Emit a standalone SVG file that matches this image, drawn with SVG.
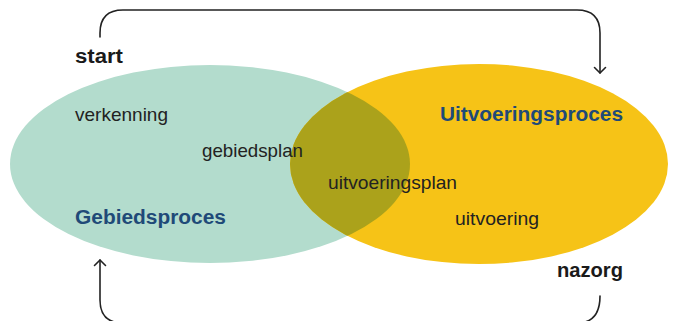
<svg xmlns="http://www.w3.org/2000/svg" width="678" height="321" viewBox="0 0 678 321">
  <style>
    .lbl { font-family: "Liberation Sans", Arial, sans-serif; font-size: 19px; fill: #222222; }
    .bold { font-family: "Liberation Sans", Arial, sans-serif; font-size: 20px; font-weight: bold; fill: #1a1a1a; }
    .title { font-family: "Liberation Sans", Arial, sans-serif; font-size: 20px; font-weight: bold; fill: #1f4a78; }
    .conn { fill: none; stroke: #222222; stroke-width: 1.6; stroke-linecap: round; stroke-linejoin: round; }
  </style>
  <defs>
    <clipPath id="tealClip">
      <ellipse cx="210" cy="164" rx="200" ry="99"/>
    </clipPath>
  </defs>
  <rect width="678" height="321" fill="#ffffff"/>

  <g id="gebiedsproces">
    <ellipse cx="210" cy="164" rx="200" ry="99" fill="#b3dccd"/>
  </g>
  <g id="uitvoeringsproces">
    <ellipse cx="479" cy="164" rx="189" ry="100" fill="#f6c317"/>
  </g>
  <g id="overlap">
    <ellipse cx="479" cy="164" rx="189" ry="100" fill="#aba21b" clip-path="url(#tealClip)"/>
  </g>

  <g id="connectors">
    <path class="conn" d="M100,37 L100,33 Q100,10 123,10 L577,10 Q600,10 600,33 L600,73"/>
    <polyline class="conn" points="594.5,67.5 600,73 605.5,67.5"/>
    <path class="conn" d="M600,296 Q600,323 577,323 L123,323 Q100,323 100,300 L100,260"/>
    <polyline class="conn" points="94.5,265.5 100,260 105.5,265.5"/>
  </g>

  <g id="start"><text class="bold" x="75" y="63" textLength="48" lengthAdjust="spacingAndGlyphs">start</text></g>
  <g id="nazorg"><text class="bold" x="557" y="277" textLength="66" lengthAdjust="spacingAndGlyphs">nazorg</text></g>
  <g id="verkenning"><text class="lbl" x="75" y="121" textLength="93" lengthAdjust="spacingAndGlyphs">verkenning</text></g>
  <g id="gebiedsplan"><text class="lbl" x="202" y="157" textLength="101" lengthAdjust="spacingAndGlyphs">gebiedsplan</text></g>
  <g id="gebiedsproces-label"><text class="title" x="75" y="224" textLength="151" lengthAdjust="spacingAndGlyphs">Gebiedsproces</text></g>
  <g id="uitvoeringsproces-label"><text class="title" x="440" y="121" textLength="183" lengthAdjust="spacingAndGlyphs">Uitvoeringsproces</text></g>
  <g id="uitvoeringsplan"><text class="lbl" x="328" y="189" textLength="129" lengthAdjust="spacingAndGlyphs">uitvoeringsplan</text></g>
  <g id="uitvoering"><text class="lbl" x="455" y="225" textLength="84" lengthAdjust="spacingAndGlyphs">uitvoering</text></g>
</svg>
